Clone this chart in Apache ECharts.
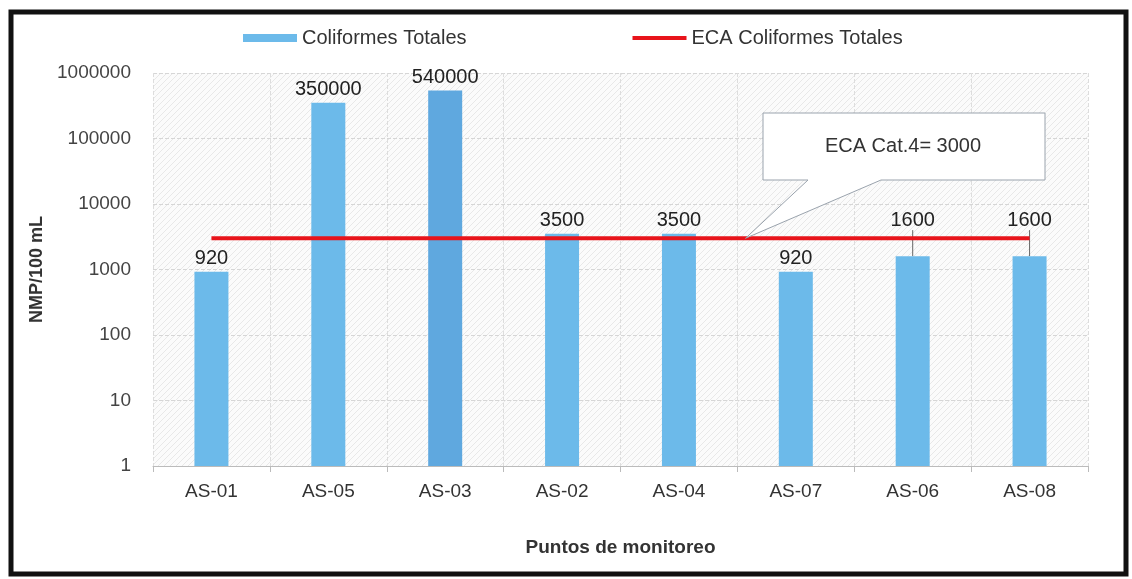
<!DOCTYPE html>
<html>
<head>
<meta charset="utf-8">
<script src="https://cdn.jsdelivr.net/npm/echarts@6/dist/echarts.min.js"></script>
<style>
  html, body { margin: 0; padding: 0; background: #fff; }
  #chart { width: 1132px; height: 579px; }
</style>
</head>
<body>
<div id="chart"></div>
<script>
var categories = ['AS-01', 'AS-05', 'AS-03', 'AS-02', 'AS-04', 'AS-07', 'AS-06', 'AS-08']
var coliformes = [920, 350000, 540000, 3500, 3500, 920, 1600, 1600]
var eca = [3000, 3000, 3000, 3000, 3000, 3000, 3000, 3000]
var ecaLabel = 'ECA Cat.4= 3000'

// hatch pattern for the plot background
var pat = document.createElement('canvas')
pat.width = 6
pat.height = 6
var pc = pat.getContext('2d')
pc.fillStyle = '#fbfbfb'
pc.fillRect(0, 0, 6, 6)
pc.strokeStyle = '#e8e8e8'
pc.lineWidth = 1
pc.beginPath()
pc.moveTo(0, 6); pc.lineTo(6, 0)
pc.moveTo(-3, 3); pc.lineTo(3, -3)
pc.moveTo(3, 9); pc.lineTo(9, 3)
pc.stroke()

var font = '"Liberation Sans", Arial, sans-serif'

var chart = echarts.init(document.getElementById('chart'))
var option = {
  animation: false,
  backgroundColor: '#fff',
  textStyle: { fontFamily: font },
  legend: {
    top: 23,
    left: 238,
    itemGap: 166,
    itemWidth: 54,
    itemHeight: 8,
    textStyle: { fontSize: 20, color: '#333', fontFamily: font },
    data: [
      { name: 'Coliformes Totales', icon: 'rect' },
      { name: 'ECA Coliformes Totales', icon: 'path://M0,0 L54,0 L54,4 L0,4 Z' }
    ]
  },
  grid: {
    left: 153, right: 44, top: 73, bottom: 113,
    show: true,
    backgroundColor: { image: pat, repeat: 'repeat' },
    borderWidth: 0
  },
  xAxis: {
    type: 'category',
    data: categories,
    name: 'Puntos de monitoreo',
    nameLocation: 'middle',
    nameGap: 72,
    nameTextStyle: { fontSize: 19, fontWeight: 'bold', color: '#333', fontFamily: font },
    axisLine: { lineStyle: { color: '#bbb' } },
    axisTick: { show: true, length: 6, lineStyle: { color: '#bbb' } },
    axisLabel: { fontSize: 19, color: '#333', margin: 16, fontFamily: font },
    splitLine: { show: true, lineStyle: { color: '#ddd', type: 'dashed' } }
  },
  yAxis: {
    type: 'log',
    logBase: 10,
    min: 1,
    max: 1000000,
    name: 'NMP/100 mL',
    nameLocation: 'middle',
    nameGap: 98,
    nameTextStyle: { fontSize: 18, fontWeight: 'bold', color: '#333', fontFamily: font },
    axisLine: { show: false },
    axisTick: { show: false },
    axisLabel: {
      fontSize: 19, color: '#444', margin: 22, fontFamily: font,
      formatter: function (v) { return String(Math.round(v)) }
    },
    splitLine: { show: true, lineStyle: { color: '#d6d6d6', type: 'dashed' } }
  },
  series: [
    {
      name: 'Coliformes Totales',
      type: 'bar',
      barWidth: 34,
      itemStyle: { color: '#6cbaea' },
      data: coliformes.map(function (v, i) {
        var d = { value: v }
        if (i === 2) d.itemStyle = { color: '#5fa8df' }
        if (i === 6 || i === 7) {
          d.label = { distance: 26 }
          d.labelLine = { show: true, lineStyle: { color: '#666', width: 1 } }
        }
        return d
      }),
      label: {
        show: true,
        position: 'top',
        distance: 3,
        fontSize: 20,
        color: '#222',
        fontFamily: font
      },
      z: 2
    },
    {
      name: 'ECA Coliformes Totales',
      type: 'line',
      data: eca,
      symbol: 'none',
      lineStyle: { color: '#e8141b', width: 4 },
      itemStyle: { color: '#e8141b' },
      z: 3
    }
  ]
}
chart.setOption(option)

// callout box pointing at the ECA line, placed from the axis scales
var p4 = chart.convertToPixel({ gridIndex: 0 }, [4, 3000])
var p5 = chart.convertToPixel({ gridIndex: 0 }, [5, 3000])
var tipX = p4[0] + (p5[0] - p4[0]) * 0.57
var tipY = p4[1]
var bx = 763, by = 113, bw = 282, bh = 67
chart.setOption({
  graphic: [
    {
      type: 'polygon',
      z: 10,
      shape: {
        points: [
          [bx, by], [bx + bw, by], [bx + bw, by + bh],
          [bx + 118, by + bh], [tipX, tipY], [bx + 45, by + bh],
          [bx, by + bh]
        ]
      },
      style: { fill: '#fff', stroke: '#9aa3ad', lineWidth: 1 }
    },
    {
      type: 'text',
      z: 11,
      x: bx + 140,
      y: by + 33,
      style: {
        text: ecaLabel, fontSize: 20, fill: '#333', fontFamily: font,
        align: 'center', verticalAlign: 'middle'
      }
    },
    {
      type: 'rect',
      z: 20,
      silent: true,
      shape: { x: 11, y: 12, width: 1115, height: 562 },
      style: { fill: 'none', stroke: '#111', lineWidth: 5 }
    }
  ]
})
</script>
</body>
</html>
